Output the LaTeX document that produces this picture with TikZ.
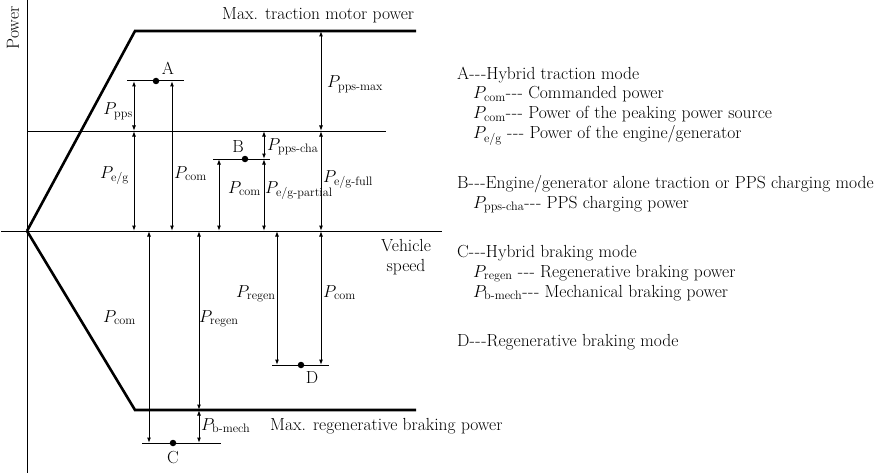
\documentclass[tikz,border=0pt]{standalone}
\usepackage{amsmath}
\usepackage{fontspec}
\usetikzlibrary{arrows.meta}

\newcommand{\Pw}[1]{$P_{\text{#1}}$}
\newcommand{\dsh}{-\kern0.6pt-\kern0.6pt-}

\begin{document}
\begin{tikzpicture}[
  x=1pt, y=-1pt,
  font=\fontsize{17.5}{20}\selectfont,
  axis/.style  ={line width=1pt},
  bound/.style ={line width=2.6pt},
  lvl/.style   ={line width=1pt},
  meas/.style  ={{Latex[length=5.5pt,width=4pt]}-{Latex[length=5.5pt,width=4pt]}, line width=1pt},
  opdot/.style ={circle, fill, inner sep=0pt, minimum size=6.5pt},
  lab/.style   ={anchor=base west, inner sep=0pt},
  leg/.style   ={anchor=base west, inner sep=0pt},
]
\useasboundingbox (0,0) rectangle (888,476);

% ---------- axes ----------
\coordinate (O) at (27,231);
\draw[axis] (27,0) -- (27,473);
\draw[axis] (1,231) -- (442,231);
\node[rotate=90] (power) at (13,28) {Power};
\node[align=center, anchor=base] (speed) at (406,271) {Vehicle\\speed};

% ---------- limits ----------
\draw[bound] (O) -- (135,31) -- (416,31);
\draw[bound] (O) -- (135,410) -- (416,410);
\draw[lvl] (27,131) -- (386,131);
\node[anchor=base west, inner sep=0pt] (tmax) at (222,20) {Max. traction motor power};
\node[anchor=base west, inner sep=0pt] (rmax) at (270,430) {Max. regenerative braking power};

% ---------- A ----------
\draw[lvl] (127,81) -- (184,81);
\node[opdot] (ptA) at (156,81) {};
\node[anchor=base, inner sep=0pt] (labA) at (168,75) {A};
\draw[meas] (134,81) -- (134,131);
\draw[meas] (134,131) -- (134,231);
\draw[meas] (172,81) -- (172,231);
\node[lab, anchor=base east] (pA) at (133,115) {\Pw{pps}};
\node[lab] (egA) at (100,178) {\Pw{e/g}};
\node[lab] (comA) at (174,178) {\Pw{com}};

% ---------- B ----------
\draw[lvl] (213,159) -- (270,159);
\node[opdot] (ptB) at (245,159) {};
\node[anchor=base, inner sep=0pt] (labB) at (238,152) {B};
\draw[meas] (219,159) -- (219,231);
\draw[meas] (264,131) -- (264,159);
\draw[meas] (264,159) -- (264,231);
\node[lab] (chaB) at (267,150) {\Pw{pps-cha}};
\node[lab] (comB) at (228,193) {\Pw{com}};
\node[lab] (partB) at (265,193) {\Pw{e/g-partial}};

% ---------- full / max ----------
\draw[meas] (321,31) -- (321,131);
\draw[meas] (321,131) -- (321,231);
\node[lab] (ppsmax) at (327,88) {\Pw{pps-max}};
\node[lab] (egfull) at (323,182) {\Pw{e/g-full}};

% ---------- C ----------
\draw[lvl] (142,443) -- (221,443);
\node[opdot] (ptC) at (173,443) {};
\node[anchor=base, inner sep=0pt] (labC) at (173,463) {C};
\draw[meas] (149,231) -- (149,443);
\draw[meas] (199,231) -- (199,410);
\draw[meas] (199,410) -- (199,443);
\node[lab] (comC) at (103,322) {\Pw{com}};
\node[lab] (regC) at (199,322) {\Pw{regen}};
\node[lab] (mechC) at (201,430) {\Pw{b-mech}};

% ---------- D ----------
\draw[lvl] (272,365) -- (329,365);
\node[opdot] (ptD) at (301,365) {};
\node[anchor=base, inner sep=0pt] (labD) at (312,383) {D};
\draw[meas] (277,231) -- (277,365);
\draw[meas] (321,231) -- (321,365);
\node[lab] (regD) at (236,297) {\Pw{regen}};
\node[lab] (comD) at (323,297) {\Pw{com}};

% ---------- legend ----------
\node[leg] (legA)     at (457,80)  {A\dsh Hybrid traction mode};
\node[leg] (legAcom)  at (473,99)  {\Pw{com}\dsh{} Commanded power};
\node[leg] (legApps)  at (473,119) {\Pw{com}\dsh{} Power of the peaking power source};
\node[leg] (legAeg)   at (473,139) {\Pw{e/g} \dsh{} Power of the engine/generator};
\node[leg] (legB)     at (457,188) {B\dsh Engine/generator alone traction or PPS charging mode};
\node[leg] (legBcha)  at (473,208) {\Pw{pps-cha}\dsh{} PPS charging power};
\node[leg] (legC)     at (457,257) {C\dsh Hybrid braking mode};
\node[leg] (legCreg)  at (473,277) {\Pw{regen} \dsh{} Regenerative braking power};
\node[leg] (legCmech) at (473,297) {\Pw{b-mech}\dsh{} Mechanical braking power};
\node[leg] (legD)     at (457,346) {D\dsh Regenerative braking mode};

\end{tikzpicture}
\end{document}
